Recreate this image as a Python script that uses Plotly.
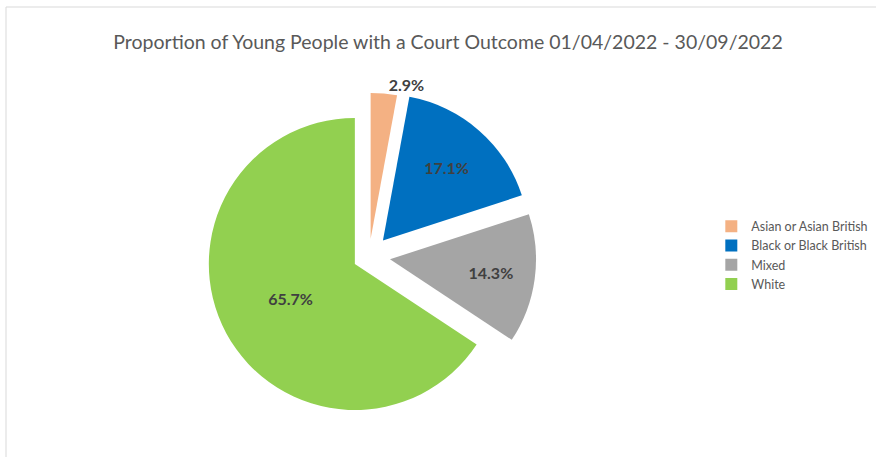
import plotly.graph_objects as go

categories = ["Asian or Asian British", "Black or Black British", "Mixed", "White"]
values = [2.9, 17.1, 14.3, 65.7]
colors = ["#F4B183", "#0070C0", "#A5A5A5", "#92D050"]
pulls = [0.12, 0.145, 0.145, 0.11]
title_text = "Proportion of Young People with a Court Outcome 01/04/2022 - 30/09/2022"

W, H = 876, 457
cx, cy, half = 369, 256.4, 167.2

fig = go.Figure(go.Pie(
    labels=categories,
    values=values,
    marker=dict(colors=colors, line=dict(color="white", width=0)),
    pull=pulls,
    sort=False,
    direction="clockwise",
    rotation=0,
    texttemplate="%{value:.1f}%",
    textposition=["outside", "inside", "inside", "inside"],
    insidetextorientation="horizontal",
    textfont=dict(family="Lato", size=16, color="#404040", weight="bold"),
    hoverinfo="label+percent",
    automargin=False,
    domain=dict(x=[(cx - half) / W, (cx + half) / W],
                y=[1 - (cy + half) / H, 1 - (cy - half) / H]),
))

fig.update_layout(
    width=W, height=H, autosize=False,
    margin=dict(l=0, r=0, t=0, b=0, pad=0, autoexpand=False),
    paper_bgcolor="white",
    title=dict(text=title_text, x=448 / W, xanchor="center",
               y=1 - 42 / H, yanchor="middle",
               font=dict(family="Lato", size=19.5, color="#595959")),
    legend=dict(x=0.812, xanchor="left", y=1 - 255 / H, yanchor="middle",
                font=dict(family="Lato", size=12.5, color="#595959"),
                bgcolor="rgba(0,0,0,0)"),
    shapes=[dict(type="rect", xref="paper", yref="paper",
                 x0=6 / W, x1=1.05, y0=-0.05, y1=1 - 7 / H,
                 line=dict(color="#D9D9D9", width=1))],
)

fig.write_html("out.html", config={"displayModeBar": False},
               post_script="document.body.style.margin='0';")
